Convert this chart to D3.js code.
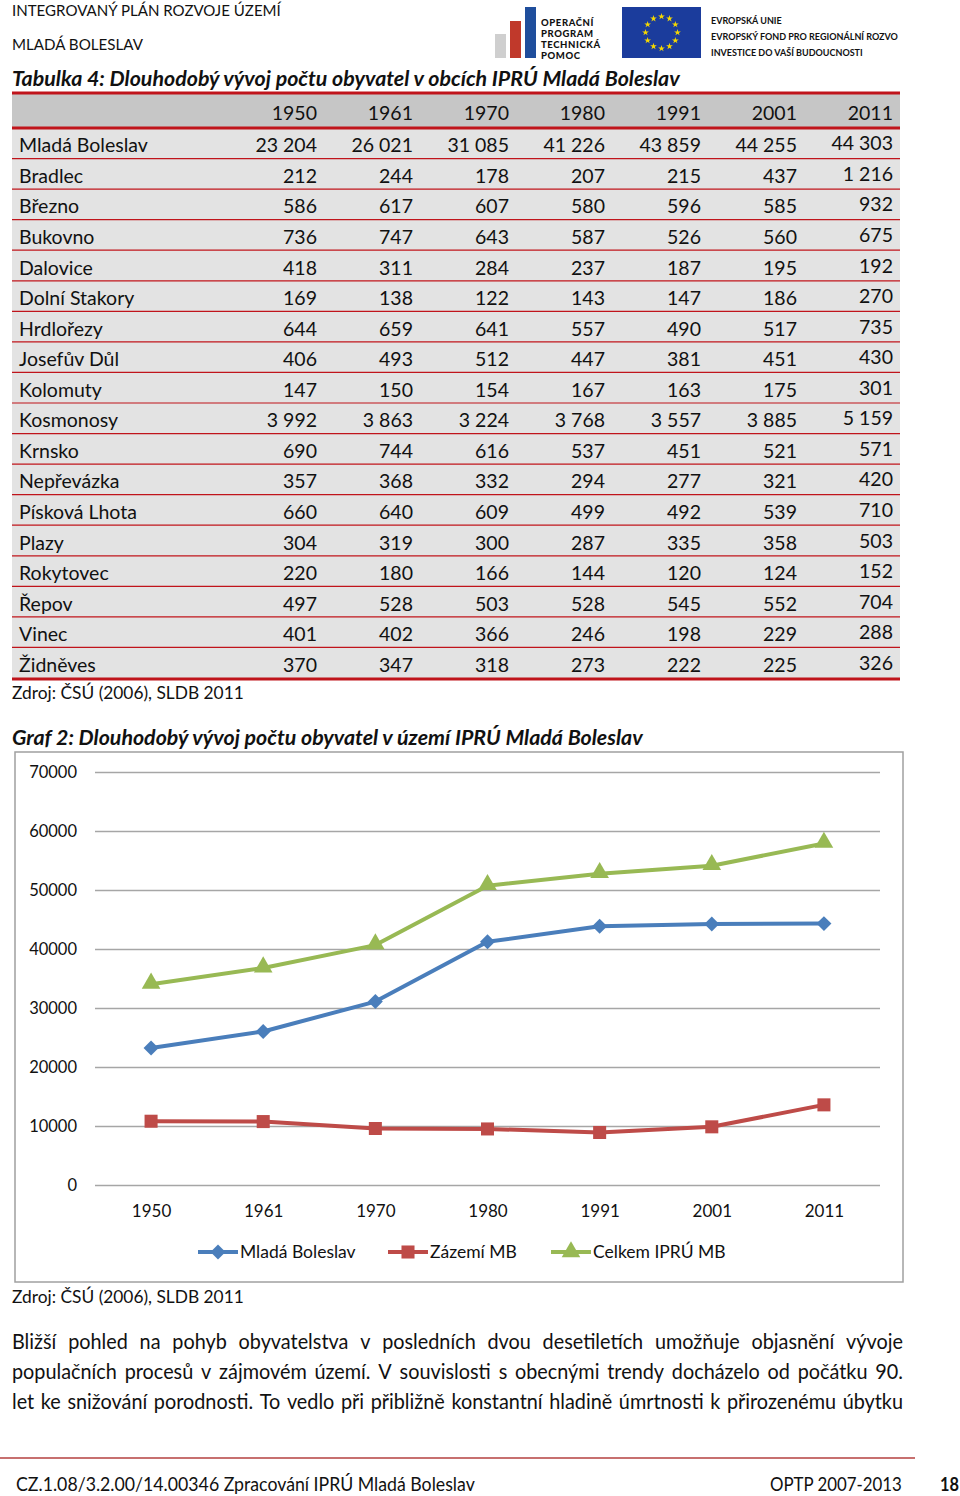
<!DOCTYPE html>
<html><head><meta charset="utf-8">
<script src="https://cdn.jsdelivr.net/npm/d3@7"></script>
<style>
body{margin:0;background:#fff}
svg{display:block}
text{font-family:Lato,"Open Sans",sans-serif;fill:#111}
</style>
</head><body>
<svg id="c" width="960" height="1496"></svg>
<script>
// ---------- DATA ----------
const years = ["1950","1961","1970","1980","1991","2001","2011"];
const municipalities = ["Mladá Boleslav","Bradlec","Březno","Bukovno","Dalovice","Dolní Stakory","Hrdlořezy","Josefův Důl","Kolomuty","Kosmonosy","Krnsko","Nepřevázka","Písková Lhota","Plazy","Rokytovec","Řepov","Vinec","Židněves"];
const populationTable = [
  [23204,26021,31085,41226,43859,44255,44303],
  [212,244,178,207,215,437,1216],
  [586,617,607,580,596,585,932],
  [736,747,643,587,526,560,675],
  [418,311,284,237,187,195,192],
  [169,138,122,143,147,186,270],
  [644,659,641,557,490,517,735],
  [406,493,512,447,381,451,430],
  [147,150,154,167,163,175,301],
  [3992,3863,3224,3768,3557,3885,5159],
  [690,744,616,537,451,521,571],
  [357,368,332,294,277,321,420],
  [660,640,609,499,492,539,710],
  [304,319,300,287,335,358,503],
  [220,180,166,144,120,124,152],
  [497,528,503,528,545,552,704],
  [401,402,366,246,198,229,288],
  [370,347,318,273,222,225,326]
];
const seriesNames = ["Mladá Boleslav","Zázemí MB","Celkem IPRÚ MB"];
const mladaBoleslav = [23204,26021,31085,41226,43859,44255,44303];
const zazemiMB = [10809,10750,9575,9501,8902,9860,13584];
const celkemIPRU = [34013,36771,40660,50727,52761,54115,57887];
const yTicks = [0,10000,20000,30000,40000,50000,60000,70000];
const paragraphLines = [
  "Bližší pohled na pohyb obyvatelstva v posledních dvou desetiletích umožňuje objasnění vývoje",
  "populačních procesů v zájmovém území. V souvislosti s obecnými trendy docházelo od počátku 90.",
  "let ke snižování porodnosti. To vedlo při přibližně konstantní hladině úmrtnosti k přirozenému úbytku"
];

// ---------- HELPERS ----------
const svg = d3.select("#c");
svg.append("rect").attr("width",960).attr("height",1496).attr("fill","#fff");
function fit(sel, target){ // scale font size so text width matches target
  const n = sel.node(); const w = n.getComputedTextLength();
  const fs = parseFloat(sel.attr("font-size"));
  sel.attr("font-size", (fs*target/w).toFixed(2));
  return sel;
}
function condensed(g, str, x, y, fs, target, weight){
  const t = g.append("text").attr("font-size",fs).attr("font-weight",weight||400).text(str);
  const w = t.node().getComputedTextLength();
  t.attr("transform",`translate(${x},${y}) scale(${target/w},1)`);
  return t;
}
const fmt = v => d3.format(",")(v).replace(/,/g,"\u00a0");

// ---------- PAGE HEADER ----------
fit(svg.append("text").attr("x",12).attr("y",16).attr("font-size",15).attr("fill","#222").text("INTEGROVANÝ PLÁN ROZVOJE ÚZEMÍ"),269);
fit(svg.append("text").attr("x",12).attr("y",50).attr("font-size",15).attr("fill","#222").text("MLADÁ BOLESLAV"),131);

// logo OPTP
const logo = svg.append("g");
logo.append("rect").attr("x",495).attr("y",34).attr("width",11).attr("height",24).attr("fill","#cfcfcf");
logo.append("rect").attr("x",510).attr("y",21).attr("width",11).attr("height",37).attr("fill","#c0392b");
logo.append("rect").attr("x",525).attr("y",7).attr("width",11).attr("height",51).attr("fill","#1f4e9c");
["OPERAČNÍ","PROGRAM","TECHNICKÁ","POMOC"].forEach((s,i)=>{
  logo.append("text").attr("x",541).attr("y",26+i*11).attr("font-size",9.5).attr("font-weight",900)
    .attr("fill","#333").attr("letter-spacing",0.6).text(s);
});
// EU flag
logo.append("rect").attr("x",622).attr("y",7).attr("width",79).attr("height",51).attr("fill","#1b3c9c");
const star = d3.symbol(d3.symbolStar).size(14);
d3.range(12).forEach(i=>{
  const a = i*Math.PI/6;
  logo.append("path").attr("d",star()).attr("fill","#f5d800")
    .attr("transform",`translate(${661.5+16*Math.sin(a)},${32.5-16*Math.cos(a)})`);
});
["EVROPSKÁ UNIE","EVROPSKÝ FOND PRO REGIONÁLNÍ ROZVO","INVESTICE DO VAŠÍ BUDOUCNOSTI"].forEach((s,i)=>{
  logo.append("text").attr("x",711).attr("y",24+i*16).attr("font-size",9).attr("font-weight",700).attr("fill","#333").text(s);
});
fit(logo.selectAll("text").filter((d,i,n)=>d3.select(n[i]).text()==="EVROPSKÝ FOND PRO REGIONÁLNÍ ROZVO"),187);

// ---------- TABLE ----------
fit(svg.append("text").attr("x",12).attr("y",86).attr("font-size",19).attr("font-weight",700).attr("font-style","italic")
  .text("Tabulka 4: Dlouhodobý vývoj počtu obyvatel v obcích IPRÚ Mladá Boleslav"),668);

const tX0 = 12, tX1 = 900;
const colX = d3.scalePoint().domain(years).range([317,893]);
const rowY = d3.scaleBand().domain(municipalities).range([128,678]);
const tbl = svg.append("g");
tbl.append("rect").attr("x",tX0).attr("y",94).attr("width",tX1-tX0).attr("height",34).attr("fill","#c6c6c6");
tbl.selectAll(".row").data(municipalities).join("rect")
  .attr("x",tX0).attr("y",d=>rowY(d)).attr("width",tX1-tX0).attr("height",rowY.bandwidth())
  .attr("fill","#e3e3e3");
tbl.selectAll(".sep").data(municipalities.slice(1)).join("line")
  .attr("x1",tX0).attr("x2",tX1).attr("y1",d=>rowY(d)).attr("y2",d=>rowY(d))
  .attr("stroke","#c0141b").attr("stroke-width",1.2);
tbl.append("line").attr("x1",tX0).attr("x2",tX1).attr("y1",93).attr("y2",93).attr("stroke","#c0141b").attr("stroke-width",3);
tbl.append("line").attr("x1",tX0).attr("x2",tX1).attr("y1",128).attr("y2",128).attr("stroke","#c0141b").attr("stroke-width",3);
tbl.append("line").attr("x1",tX0).attr("x2",tX1).attr("y1",679).attr("y2",679).attr("stroke","#c0141b").attr("stroke-width",3);
tbl.selectAll(".hd").data(years).join("text")
  .attr("x",d=>colX(d)).attr("y",120).attr("text-anchor","end").attr("font-size",19.5).text(d=>d);
tbl.selectAll(".nm").data(municipalities).join("text")
  .attr("x",19).attr("y",d=>rowY(d)+rowY.bandwidth()/2+9).attr("font-size",19.5).text(d=>d);
municipalities.forEach((m,r)=>{
  tbl.selectAll(null).data(populationTable[r]).join("text")
    .attr("x",(d,i)=>colX(years[i])).attr("y",(d,i)=>rowY(m)+rowY.bandwidth()/2+9-(i===6?2:0))
    .attr("text-anchor","end").attr("font-size",19.5).text(d=>fmt(d));
});
fit(svg.append("text").attr("x",12).attr("y",699).attr("font-size",17).text("Zdroj: ČSÚ (2006), SLDB 2011"),232);

// ---------- CHART ----------
fit(svg.append("text").attr("x",12).attr("y",745).attr("font-size",19).attr("font-weight",700).attr("font-style","italic")
  .text("Graf 2: Dlouhodobý vývoj počtu obyvatel v území IPRÚ Mladá Boleslav"),631);
svg.append("rect").attr("x",15).attr("y",752).attr("width",888).attr("height",530)
  .attr("fill","#fff").attr("stroke","#a0a0a0").attr("stroke-width",1.5);

const x = d3.scalePoint().domain(years).range([95,880]).padding(0.5);
const y = d3.scaleLinear().domain([0,70000]).range([1185,772]);
const grid = svg.append("g").attr("transform","translate(95,0)")
  .call(d3.axisRight(y).tickValues(yTicks).tickSize(785).tickFormat(""));
grid.select(".domain").remove();
grid.selectAll("line").attr("stroke","#a6a6a6").attr("stroke-width",1.5);
const ya = svg.append("g").attr("transform","translate(77,0)")
  .call(d3.axisLeft(y).tickValues(yTicks).tickSize(0).tickPadding(0).tickFormat(d3.format("d")));
ya.select(".domain").remove();
ya.selectAll("text").attr("font-size",16.5).attr("font-family","Lato").attr("fill","#111").attr("dy","0.35em");
const xa = svg.append("g").attr("transform","translate(0,1185)")
  .call(d3.axisBottom(x).tickSize(0).tickPadding(20));
xa.select(".domain").remove();
xa.selectAll("text").attr("font-size",17).attr("font-family","Lato").attr("fill","#111");

const colors = ["#4a7ebb","#be4b48","#98b954"];
const seriesData = [mladaBoleslav, zazemiMB, celkemIPRU];
const markers = [
  d3.symbol(d3.symbolSquare).size(112),
  d3.symbol(d3.symbolSquare).size(170),
  d3.symbol(d3.symbolTriangle).size(150)
];
const markerRot = [45,0,0];
const line = d3.line().x((d,i)=>x(years[i])).y(d=>y(d));
seriesData.forEach((vals,k)=>{
  const g = svg.append("g");
  g.append("path").attr("d",line(vals)).attr("fill","none").attr("stroke",colors[k])
    .attr("stroke-width",4).attr("stroke-linejoin","round");
  g.selectAll("path.m").data(vals).join("path").attr("class","m")
    .attr("d",markers[k]()).attr("fill",colors[k])
    .attr("transform",(d,i)=>`translate(${x(years[i])},${y(d)+(k===2?-1:0)}) rotate(${markerRot[k]})`);
});
const legX = [198,388,551];
const lg = svg.append("g");
seriesNames.forEach((s,k)=>{
  lg.append("line").attr("x1",legX[k]).attr("x2",legX[k]+40).attr("y1",1252).attr("y2",1252)
    .attr("stroke",colors[k]).attr("stroke-width",4);
  lg.append("path").attr("d",markers[k]()).attr("fill",colors[k])
    .attr("transform",`translate(${legX[k]+20},${1252}) rotate(${markerRot[k]})`);
  lg.append("text").attr("x",legX[k]+42).attr("y",1258).attr("font-size",17.5).text(s);
});
fit(svg.append("text").attr("x",12).attr("y",1303).attr("font-size",17).text("Zdroj: ČSÚ (2006), SLDB 2011"),232);

// ---------- PARAGRAPH (justified) ----------
const pg = svg.append("g");
const pL = 12, pR = 903, pFs = 20.5;
const probe = pg.append("text").attr("font-size",pFs).text(paragraphLines[2]);
const sx = (pR-pL)/ (probe.node().getComputedTextLength()+ 14*1.5);
probe.remove();
paragraphLines.forEach((ln,li)=>{
  const words = ln.split(" ");
  const gl = pg.append("g").attr("transform",`translate(${pL},${1349+li*30}) scale(${sx},1)`);
  const ts = words.map(w=>gl.append("text").attr("font-size",pFs).text(w));
  const widths = ts.map(t=>t.node().getComputedTextLength());
  const total = (pR-pL)/sx;
  const gap = (total - d3.sum(widths))/(words.length-1);
  let cx = 0;
  ts.forEach((t,i)=>{ t.attr("x",cx); cx += widths[i]+gap; });
});

// ---------- FOOTER ----------
svg.append("line").attr("x1",0).attr("x2",915).attr("y1",1458).attr("y2",1458).attr("stroke","#b5403f").attr("stroke-width",1.5);
const fg = svg.append("g");
condensed(fg,"CZ.1.08/3.2.00/14.00346 Zpracování IPRÚ Mladá Boleslav",16,1491,19,459);
condensed(fg,"OPTP 2007-2013",770,1491,19,132);
condensed(fg,"18",940,1491,19,19,700);
</script>
</body></html>
